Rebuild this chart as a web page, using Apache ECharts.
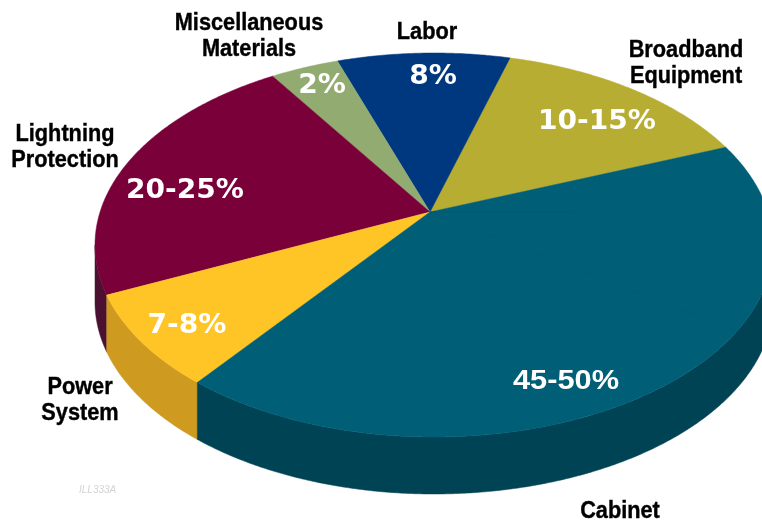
<!DOCTYPE html>
<html>
<head>
<meta charset="utf-8">
<title>Cost breakdown</title>
<script src="https://cdn.jsdelivr.net/npm/echarts@6/dist/echarts.min.js"></script>
<style>
  html, body { margin: 0; padding: 0; background: #fff; }
  #chart { width: 762px; height: 523px; }
</style>
</head>
<body>
<div id="chart"></div>
<script>
// slices, counter-clockwise starting from the Broadband/Cabinet edge
const categories = ['Broadband\nEquipment', 'Labor', 'Miscellaneous\nMaterials', 'Lightning\nProtection', 'Power\nSystem', 'Cabinet'];
const shares = [12.9, 8.2, 3.3, 21.3, 8.5, 45.8]; // drawn size of each slice, %
const shareLabels = ['10-15%', '8%', '2%', '20-25%', '7-8%', '45-50%'];

const topColors = ['#B8AD33', '#003880', '#92AB70', '#7A0039', '#FFC425', '#005F77'];
const wallColors = ['#8A8226', '#002A60', '#6E8054', '#4C1030', '#CE9A20', '#004355'];

// look of the tilted pie
const pie = { cx: 434, cy: 245, rx: 339, ry: 192, apexX: 430, apexY: 212, depth: 57, startAngle: 30.6 };
const seamAngles = [-26.6, -68, -1]; // faint lines on the cabinet slice

const namePos = [[686, 63], [427, 32], [249, 36], [65, 147], [80, 400], [620, 511]];
const sharePos = [[597, 122], [433, 77], [322, 86], [185, 191], [187, 326], [566, 382]];

const total = shares.reduce((sum, v) => sum + v, 0);

const rimPoint = (deg, drop) => {
    const t = deg * Math.PI / 180;
    return [pie.cx + pie.rx * Math.cos(t), pie.cy - pie.ry * Math.sin(t) + (drop || 0)];
};

const arcPoints = (from, to, drop) => {
    const pts = [];
    const steps = Math.max(2, Math.ceil(Math.abs(to - from) * 2));
    for (let i = 0; i <= steps; i++) {
        pts.push(rimPoint(from + (to - from) * i / steps, drop));
    }
    return pts;
};

const renderSlice = (params, api) => {
    const idx = params.dataIndex;
    let before = 0;
    for (let i = 0; i < idx; i++) before += shares[i];
    const from = pie.startAngle + before / total * 360;
    const to = from + api.value(0) / total * 360;
    const children = [];

    // side wall, only the front half of the rim shows
    const wallFrom = Math.max(from, 180);
    const wallTo = Math.min(to, 360);
    if (wallTo > wallFrom) {
        children.push({
            type: 'polygon',
            shape: { points: arcPoints(wallFrom, wallTo, 0).concat(arcPoints(wallTo, wallFrom, pie.depth)) },
            style: { fill: wallColors[idx], stroke: wallColors[idx], lineWidth: 0.5 }
        });
    }

    // top face
    children.push({
        type: 'polygon',
        shape: { points: [[pie.apexX, pie.apexY]].concat(arcPoints(from, to, 0)) },
        style: { fill: topColors[idx], stroke: topColors[idx], lineWidth: 0.5 }
    });

    if (idx === shares.length - 1) {
        seamAngles.forEach((deg, n) => {
            let end = rimPoint(deg, 0);
            // the near-horizontal seam fades out, keep it short
            if (n === 2) end = [pie.apexX + (end[0] - pie.apexX) * 0.42, pie.apexY];
            children.push({
                type: 'line',
                shape: { x1: pie.apexX, y1: pie.apexY, x2: end[0], y2: end[1] },
                style: { stroke: '#005B73', lineWidth: 1 }
            });
        });
    }

    return { type: 'group', children: children };
};

const nameLabels = categories.map((name, i) => ({
    type: 'text',
    x: namePos[i][0],
    y: namePos[i][1],
    z: 10,
    scaleX: 0.905,
    style: {
        text: name,
        x: 0,
        y: 0,
        align: 'center',
        verticalAlign: 'middle',
        fill: '#000',
        stroke: '#000',
        lineWidth: 0.4,
        font: 'bold 24px "Liberation Sans", sans-serif',
        lineHeight: 26
    }
}));

const valueLabels = shareLabels.map((text, i) => ({
    type: 'text',
    x: sharePos[i][0],
    y: sharePos[i][1],
    z: 10,
    scaleX: i === 5 ? 1.14 : 1.08,
    style: {
        text: text,
        x: 0,
        y: 0,
        align: 'center',
        verticalAlign: 'middle',
        fill: '#fff',
        font: i === 5 ? 'bold 27px "Liberation Sans", sans-serif' : 'bold 26px "DejaVu Sans", sans-serif'
    }
}));

const chart = echarts.init(document.getElementById('chart'), null, { renderer: 'canvas' });
chart.setOption({
    animation: false,
    backgroundColor: '#fff',
    series: [{
        type: 'custom',
        coordinateSystem: 'none',
        renderItem: renderSlice,
        data: shares.map(v => [v]),
        silent: true
    }],
    graphic: nameLabels.concat(valueLabels, [{
        type: 'text',
        x: 79,
        y: 490,
        z: 10,
        style: {
            text: 'ILL333A',
            x: 0,
            y: 0,
            verticalAlign: 'middle',
            fill: '#D4D4D4',
            font: 'italic 10px "Liberation Sans", sans-serif'
        }
    }])
});
</script>
</body>
</html>
